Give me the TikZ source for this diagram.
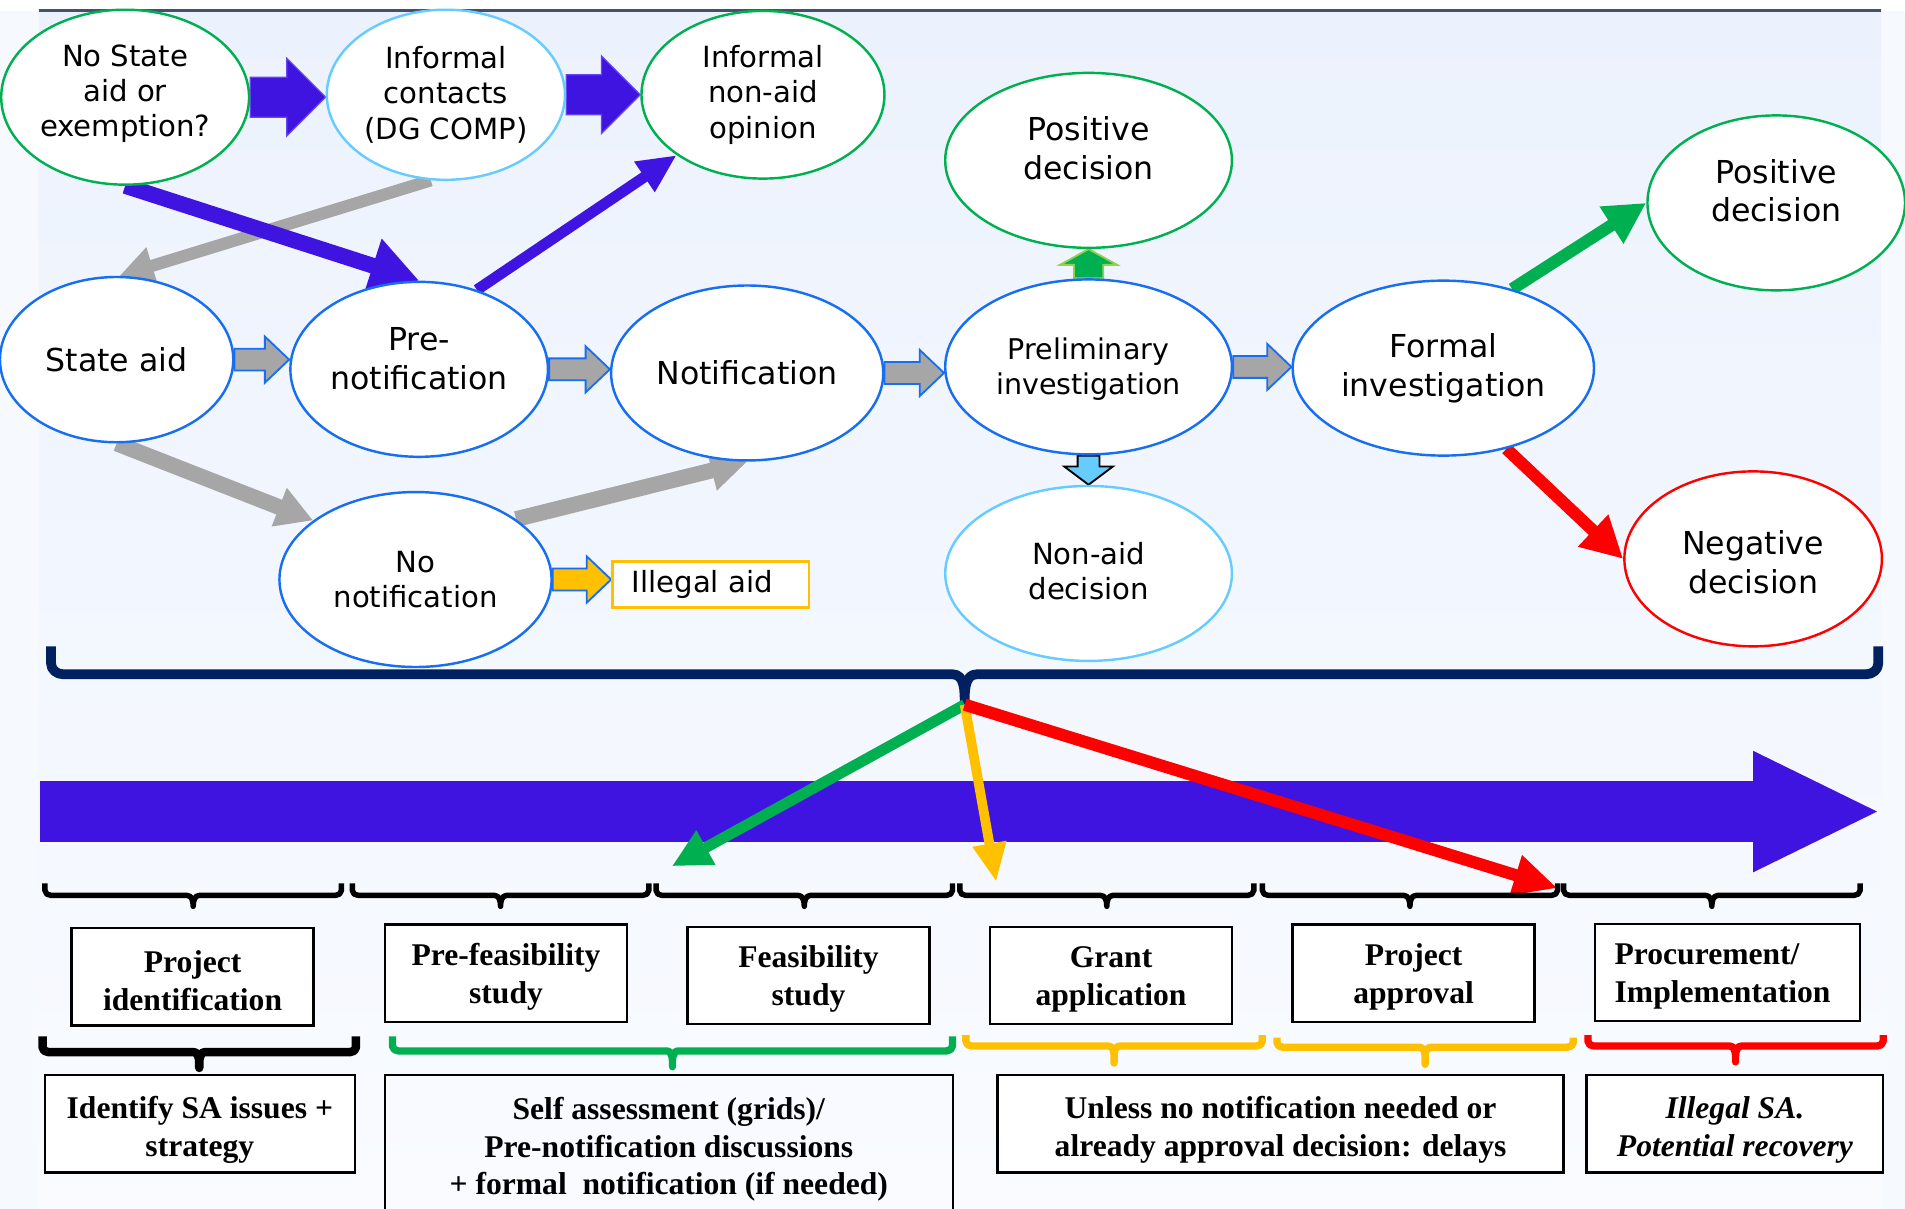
\documentclass[tikz,border=0pt]{standalone}
\usepackage{fontspec}
\setmainfont{Liberation Serif}
\newfontfamily\dvs{DejaVu Sans}
\usetikzlibrary{shapes.geometric,arrows.meta,calc}

\definecolor{bgside}{RGB}{246,249,254}
\definecolor{bgtop}{RGB}{236,242,253}
\definecolor{bgbot}{RGB}{249,251,255}
\definecolor{rim}{RGB}{70,80,110}
\definecolor{royal}{RGB}{64,20,224}
\definecolor{royalrim}{RGB}{100,70,240}
\definecolor{ringblue}{RGB}{24,110,240}
\definecolor{ringgreen}{RGB}{0,176,80}
\definecolor{ringsky}{RGB}{102,204,255}
\definecolor{ringred}{RGB}{255,0,0}
\definecolor{amber}{RGB}{255,192,0}
\definecolor{navy}{RGB}{0,32,96}
\definecolor{ash}{RGB}{166,166,166}
\definecolor{leaf}{RGB}{146,208,80}

\pgfdeclarelayer{back}
\pgfdeclarelayer{mid}
\pgfsetlayers{back,mid,main}

\tikzset{
  ell/.style={ellipse, draw, fill=white, line width=2pt, inner sep=0pt, align=center},
  etext/.style={inner sep=0pt, align=center},
  sz24/.style={font=\dvs\fontsize{24}{29}\selectfont},
  sz23/.style={font=\dvs\fontsize{23.5}{28.5}\selectfont},
  sz26/.style={font=\dvs\fontsize{26}{32}\selectfont},
  stagebox/.style={draw=black, line width=2pt, fill=white, inner sep=0pt,
    minimum width=199pt, minimum height=80pt},
  notebox/.style={draw=black, line width=2pt, fill=white, inner sep=0pt, minimum height=80pt},
  boxtext/.style={inner sep=0pt, align=center, font=\bfseries\fontsize{26}{31}\selectfont},
  royalblock/.style={fill=royal, draw=royalrim, line width=1pt},
  ashblock/.style={fill=ash, draw=ringblue, line width=1.5pt},
  amberblock/.style={fill=amber, draw=ringblue, line width=1.5pt},
  greenblock/.style={fill=ringgreen, draw=leaf, line width=1.5pt},
  skyblock/.style={fill=ringsky, draw=black, line width=1.5pt},
  thinbrace/.style={draw=black, line width=4.5pt, line join=round},
}

% right-pointing block arrow: style, start, end, half shaft, half head, head length
\newcommand\harr[6]{\filldraw[#1] ($(#2)+(0,-#4)$) -- ($(#3)+(-#6,-#4)$) -- ($(#3)+(-#6,-#5)$) -- (#3)
  -- ($(#3)+(-#6,#5)$) -- ($(#3)+(-#6,#4)$) -- ($(#2)+(0,#4)$) -- cycle;}
% upward block arrow
\newcommand\uarr[6]{\filldraw[#1] ($(#2)+(-#4,0)$) -- ($(#3)+(-#4,#6)$) -- ($(#3)+(-#5,#6)$) -- (#3)
  -- ($(#3)+(#5,#6)$) -- ($(#3)+(#4,#6)$) -- ($(#2)+(#4,0)$) -- cycle;}
% downward block arrow
\newcommand\darr[6]{\filldraw[#1] ($(#2)+(-#4,0)$) -- ($(#3)+(-#4,-#6)$) -- ($(#3)+(-#5,-#6)$) -- (#3)
  -- ($(#3)+(#5,-#6)$) -- ($(#3)+(#4,-#6)$) -- ($(#2)+(#4,0)$) -- cycle;}
% square brace opening upwards: style, x1, x2, y of ends, y of bar, y of tip
\newcommand\sqbrace[6]{%
  \pgfmathsetmacro\bmid{(#2+#3)/2}%
  \pgfmathsetmacro\bml{\bmid-5}%
  \pgfmathsetmacro\bmr{\bmid+5}%
  \pgfmathsetmacro\bxl{#2+5}%
  \pgfmathsetmacro\bxr{#3-5}%
  \pgfmathsetmacro\byc{#5-4}%
  \draw[#1] (#2,#4) -- (#2,\byc) to[out=-90,in=180] (\bxl,#5)
  -- (\bml,#5) to[out=0,in=90] (\bmid,#6) to[out=90,in=180] (\bmr,#5)
  -- (\bxr,#5) to[out=0,in=-90] (#3,\byc) -- (#3,#4);}

\begin{document}
\begin{tikzpicture}[x=1pt,y=-1pt]
\useasboundingbox (0,0) rectangle (1568,995);

\begin{pgfonlayer}{back}
  \fill[bgside] (0,0) rectangle (1568,995);
  \fill[white] (0,0) rectangle (1568,9);
  \shade[top color=bgtop, bottom color=bgbot] (32,9) rectangle (1548,995);
  \draw[rim, line width=2.5pt] (32,9) -- (1548,9);
\end{pgfonlayer}

% ---- procedure nodes ----
\node[ell, draw=ringgreen, minimum width=204pt, minimum height=144pt] (ns) at (103,80) {};
\node[etext, sz24] (nst) at ($(ns.center)+(0,-3)$) {No State\\aid or\\exemption?};
\node[ell, sz24, draw=ringsky, minimum width=196pt, minimum height=140pt] (ic) at (367,78) {Informal\\contacts\\(DG COMP)};
\node[ell, sz24, draw=ringgreen, minimum width=200pt, minimum height=138pt] (io) at (628,78) {Informal\\non-aid\\opinion};
\node[ell, draw=ringgreen, minimum width=236pt, minimum height=144pt] (pd) at (896,132) {};
\node[etext, sz26] (pdt) at ($(pd.center)+(0,-10)$) {Positive\\decision};
\node[ell, draw=ringgreen, minimum width=212pt, minimum height=144pt] (pr) at (1462,167) {};
\node[etext, sz26] (prt) at ($(pr.center)+(0,-10)$) {Positive\\decision};
\node[ell, sz26, draw=ringblue, minimum width=192pt, minimum height=136pt] (sa) at (96,296) {State aid};
\node[ell, draw=ringblue, minimum width=212pt, minimum height=144pt] (pn) at (345,304) {};
\node[etext, sz26] (pnt) at ($(pn.center)+(0,-9)$) {Pre-\\notification};
\node[ell, sz26, draw=ringblue, minimum width=224pt, minimum height=144pt] (nt) at (615,307) {Notification};
\node[ell, draw=ringblue, minimum width=236pt, minimum height=144pt] (pi) at (896,302) {};
\node[etext, sz23] (pit) at ($(pi.center)+(0,2)$) {Preliminary\\investigation};
\node[ell, sz26, draw=ringblue, minimum width=248pt, minimum height=144pt] (fi) at (1188,303) {Formal\\investigation};
\node[ell, sz24, draw=ringblue, minimum width=224pt, minimum height=144pt] (nn) at (342,477) {No\\notification};
\node[ell, draw=ringsky, minimum width=236pt, minimum height=144pt] (na) at (896,472) {};
\node[etext, sz24] (nat) at ($(na.center)+(0,-2)$) {Non-aid\\decision};
\node[ell, draw=ringred, minimum width=212pt, minimum height=144pt] (ng) at (1443,460) {};
\node[etext, sz26] (ngt) at ($(ng.center)+(0,3)$) {Negative\\decision};
\node[draw=amber, line width=2pt, fill=white, sz24, minimum width=162pt, minimum height=38pt,
      inner sep=0pt, text width=130pt, align=left] (ia) at (585,481) {Illegal aid};

% ---- stage boxes ----
\node[stagebox] (b1) at (158.5,804) {};
\node[boxtext] (b1t) at ($(b1.center)+(0,3)$) {Project\\identification};
\node[stagebox] (b2) at (416.5,801) {};
\node[boxtext] (b2t) at ($(b2.center)+(0,3)$) {Pre-feasibility\\study};
\node[stagebox] (b3) at (665.5,803) {};
\node[boxtext] (b3t) at ($(b3.center)+(0,3)$) {Feasibility\\study};
\node[stagebox] (b4) at (914.5,803) {};
\node[boxtext] (b4t) at ($(b4.center)+(0,3)$) {Grant\\application};
\node[stagebox] (b5) at (1163.5,801) {};
\node[boxtext] (b5t) at ($(b5.center)+(0,3)$) {Project\\approval};
\node[stagebox, minimum width=218pt] (b6) at (1422,800.5) {};
\node[boxtext, text width=186pt, align=left] (b6t) at ($(b6.center)+(0,3)$) {Procurement/\\Implementation};

% ---- phase notes ----
\node[notebox, minimum width=255pt] (c1) at (164.5,925) {};
\node[boxtext] (c1t) at ($(c1.center)+(0,5)$) {Identify SA issues +\\strategy};
\node[minimum width=467pt, minimum height=110pt, inner sep=0pt] (c2) at (550.5,940) {};
\draw[black, line width=2pt] (c2.south west) -- (c2.north west) -- (c2.north east) -- (c2.south east);
\node[boxtext] (c2t) at ($(c2.center)+(0,6)$) {Self assessment (grids)/\\Pre-notification discussions\\+ formal\ \ notification (if needed)};
\node[notebox, minimum width=466pt] (c3) at (1054,925) {};
\node[boxtext] (c3t) at ($(c3.center)+(0,5)$) {Unless no notification needed or\\already approval decision: delays};
\node[notebox, minimum width=244pt] (c4) at (1428,925) {};
\node[boxtext, font=\bfseries\itshape\fontsize{26}{31}\selectfont] (c4t) at ($(c4.center)+(0,5)$) {Illegal SA.\\Potential recovery};

\begin{pgfonlayer}{mid}
  % block arrows along the procedure
  \coordinate (e1) at (ns.east -| ic.west);
  \coordinate (e2) at (ic.east -| io.west);
  \coordinate (e3) at (sa.east -| pn.west);
  \coordinate (e4) at (pn.east -| nt.west);
  \coordinate (e5) at (nt.east -| pi.west);
  \coordinate (e6) at (pi.east -| fi.west);
  \coordinate (e7) at (nn.east -| ia.west);
  \harr{royalblock}{ns.east}{e1}{16.5}{32}{32}
  \harr{royalblock}{ic.east}{e2}{16.5}{32}{32}
  \harr{ashblock}{sa.east}{e3}{9}{19}{20}
  \harr{ashblock}{pn.east}{e4}{9}{19}{20}
  \harr{ashblock}{nt.east}{e5}{9}{19}{20}
  \harr{ashblock}{pi.east}{e6}{9}{19}{20}
  \harr{amberblock}{nn.east}{e7}{9}{19}{20}
  \uarr{greenblock}{pi.north}{pd.south}{12}{23.5}{13}
  \darr{skyblock}{pi.south}{na.north}{9}{20}{15}

  % thick connectors
  \draw[ash, line width=10pt, -{Triangle[length=28pt,width=30pt]}] (ic.260) -- (sa.88);
  \draw[royal, line width=13pt, -{Triangle[length=40pt,width=44pt]}] (ns.south) -- (pn.north);
  \draw[royal, line width=9pt, -{Triangle[length=32pt,width=28pt]}] (pn.54) -- (io.215);
  \draw[ash, line width=13pt, -{Triangle[length=30pt,width=32pt]}] (sa.south) -- (nn.150);
  \draw[ash, line width=13pt, -{Triangle[length=30pt,width=32pt]}] (nn.31) -- (nt.south);
  \draw[ringgreen, line width=10pt, -{Triangle[length=34pt,width=34pt]}] (fi.49) -- (pr.west);
  \draw[ringred, line width=10pt, -{Triangle[length=34pt,width=34pt]}] (fi.-52) -- (ng.west);

  % timeline
  \fill[royal] (33,643) -- (1443,643) -- (1443,618) -- (1545,668) -- (1443,718) -- (1443,693) -- (33,693) -- cycle;

  % large brace gathering the procedure
  \draw[navy, line width=8pt, line join=round] (42,532) -- (42,546) to[out=-90,in=180] (52,555)
    -- (784,555) to[out=0,in=90] (794,579) to[out=90,in=180] (804,555)
    -- (1536,555) to[out=0,in=-90] (1546,546) -- (1546,532);
  \coordinate (bt) at (794,580);
  \coordinate (gEnd) at (553,713);
  \coordinate (yEnd) at (820,726);
  \coordinate (rEnd) at (1282,731);
  \draw[ringgreen, line width=9pt, -{Triangle[length=32pt,width=30pt]}] (bt) -- (gEnd);
  \draw[amber, line width=8pt, -{Triangle[length=32pt,width=26pt]}] (bt) -- (yEnd);
  \draw[ringred, line width=10pt, -{Triangle[length=36pt,width=32pt]}] (bt) -- (rEnd);

  % stage braces
  \sqbrace{thinbrace}{37}{281}{727}{737}{746}
  \sqbrace{thinbrace}{290}{534}{727}{737}{746}
  \sqbrace{thinbrace}{540}{784}{727}{737}{746}
  \sqbrace{thinbrace}{790}{1032}{727}{737}{746}
  \sqbrace{thinbrace}{1039}{1282}{727}{737}{746}
  \sqbrace{thinbrace}{1287}{1531}{727}{737}{746}

  % phase braces
  \sqbrace{draw=black, line width=7pt, line join=round}{35}{293}{853}{866}{879}
  \sqbrace{draw=ringgreen, line width=6pt, line join=round}{323}{784}{853}{865}{878}
  \sqbrace{draw=amber, line width=6pt, line join=round}{795}{1039}{852}{861}{875}
  \sqbrace{draw=amber, line width=6pt, line join=round}{1051}{1295}{854}{862}{876}
  \sqbrace{draw=ringred, line width=6pt, line join=round}{1307}{1550}{852}{861}{874}
\end{pgfonlayer}
\end{tikzpicture}
\end{document}
